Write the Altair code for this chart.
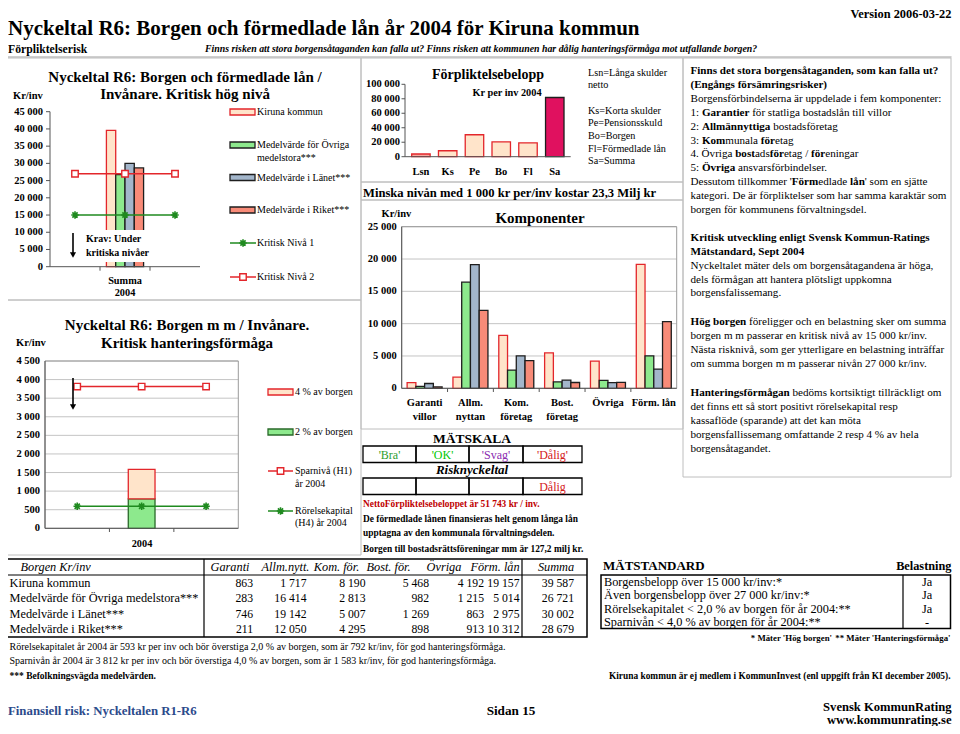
import altair as alt
import pandas as pd

SERIF = "Liberation Serif"

# ===================== DATA =====================
SERIES = ["Kiruna kommun", "Medelvärde för Övriga medelstora***",
          "Medelvärde i Länet***", "Medelvärde i Riket***"]
COMP_CATS = ["Garanti villor", "Allm. nyttan", "Kom. företag", "Bost. företag", "Övriga", "Förm. lån"]
COMP_LABEL_1 = ["Garanti", "Allm.", "Kom.", "Bost.", "Övriga", "Förm. lån"]
COMP_LABEL_2 = ["villor", "nyttan", "företag", "företag", "", ""]
KIRUNA = [863, 1717, 8190, 5468, 4192, 19157]
OVRIGA = [283, 16414, 2813, 982, 1215, 5014]
LANET = [746, 19142, 5007, 1269, 863, 2975]
RIKET = [211, 12050, 4295, 898, 913, 10312]
SUMMA = [39587, 26721, 30002, 28679]
KRITISK_NIVA_1 = 15000
KRITISK_NIVA_2 = 27000
C1_SLOTS = ["pre", "Summa 2004", "post"]
C1_TICKS = [0, 5000, 10000, 15000, 20000, 25000, 30000, 35000, 40000, 45000]

FORPL_CATS = ["Lsn", "Ks", "Pe", "Bo", "Fl", "Sa"]
FORPL_VALUES = [3700, 8200, 30300, 20430, 19157, 81787]
FORPL_TICKS = [0, 20000, 40000, 60000, 80000, 100000]

KOMP_TICKS = [0, 5000, 10000, 15000, 20000, 25000]

C4_SLOTS = ["pre", "2004", "post"]
HANT_2PCT = 792
HANT_4PCT = 1583
SPARNIVA = 3812
RORELSEKAPITAL = 593
HANT_TICKS = [0, 500, 1000, 1500, 2000, 2500, 3000, 3500, 4000, 4500]

TABLE_COLS = ["Garanti", "Allm.nytt.", "Kom. för.", "Bost. för.", "Övriga", "Förm. lån"]
MATSTANDARD = ["Borgensbelopp över 15 000 kr/inv:*", "Även borgensbelopp över 27 000 kr/inv:*",
               "Rörelsekapitalet < 2,0 % av borgen för år 2004:**", "Sparnivån < 4,0 % av borgen för år 2004:**"]
BELASTNING = ["Ja", "Ja", "Ja", "-"]

# ===================== STYLE =====================
RED = "#E3262B"
PEACH = "#FFE4CA"
GFILL = "#8DE98D"
BLUEG = "#A3B6CB"
SALMON = "#F88B78"
DARK = "#1E1E1E"
LGREEN = "#1F8A1F"
MAGENTA = "#E0115F"
LSNFILL = "#F6A9A0"
FRAME = "#BEBEBE"
AXIS = "#555555"
GRID = "#C4C4C4"
FILL = dict(zip(SERIES, [PEACH, GFILL, BLUEG, SALMON]))
STROKE = dict(zip(SERIES, [RED, DARK, DARK, DARK]))
ASTERISK = "M-1,0L1,0M0,-1L0,1M-0.7,-0.7L0.7,0.7M-0.7,0.7L0.7,-0.7"
RIGHT_EDGE = 951.5   # right-most page pixel available to the drawing


def P(v):
    return v - 8


def fmt(v):
    return f"{v:,}".replace(",", " ")


# Times / Liberation Serif advance widths (per 1000 em) for mixed-weight lines
_TR = dict(zip("abcdefghijklmnopqrstuvwxyz",
               [444, 500, 444, 500, 444, 333, 500, 500, 278, 278, 500, 278, 778, 500, 500, 500, 500, 333, 389, 278, 500, 500, 722, 500, 500, 444]))
_TR.update(dict(zip("ABCDEFGHIJKLMNOPQRSTUVWXYZ",
                    [722, 667, 667, 722, 611, 556, 722, 722, 333, 389, 722, 611, 889, 722, 722, 556, 722, 667, 556, 611, 722, 722, 944, 722, 722, 611])))
_TR.update({" ": 250, ".": 250, ",": 250, ":": 278, "'": 180, "/": 278, "-": 333, "(": 333, ")": 333, "%": 833})
_TB = dict(zip("abcdefghijklmnopqrstuvwxyz",
               [500, 556, 444, 556, 444, 333, 500, 556, 278, 333, 556, 278, 833, 556, 500, 556, 556, 444, 389, 333, 556, 500, 722, 500, 500, 444]))
_TB.update(dict(zip("ABCDEFGHIJKLMNOPQRSTUVWXYZ",
                    [722, 667, 722, 722, 667, 611, 778, 778, 389, 500, 778, 667, 944, 722, 778, 611, 778, 722, 556, 667, 722, 722, 1000, 722, 722, 667])))
_TB.update({" ": 250, ".": 250, ",": 250, ":": 333, "'": 278, "/": 278, "-": 333, "(": 333, ")": 333, "%": 1000})
_ACC = {"å": "a", "ä": "a", "ö": "o", "Å": "A", "Ä": "A", "Ö": "O", "é": "e"}


def tw(s, size, bold):
    tab = _TB if bold else _TR
    return sum(tab.get(_ACC.get(c, c), 500) for c in s) * size / 1000.0


def texts(rows, size, weight="normal", style="normal", align="left", color="black"):
    df = pd.DataFrame(rows, columns=["x", "y", "t"])
    df["x"] = df["x"] - 8
    df["y"] = df["y"] - 8
    return alt.Chart(df).mark_text(align=align, baseline="middle", font=SERIF, fontSize=size,
                                   fontWeight=weight, fontStyle=style, color=color).encode(
        x=alt.X("x:Q", scale=None, axis=None), y=alt.Y("y:Q", scale=None, axis=None), text="t:N")


def frames(rects, color, width=1.0, fill="white", fill_opacity=0.0):
    df = pd.DataFrame(rects, columns=["x", "y", "x2", "y2"]) - 8
    return alt.Chart(df).mark_rect(fill=fill, fillOpacity=fill_opacity, stroke=color, strokeWidth=width).encode(
        x=alt.X("x:Q", scale=None, axis=None), x2="x2:Q",
        y=alt.Y("y:Q", scale=None, axis=None), y2="y2:Q")


def segs(lines, x0, y0, dy, size):
    """Lay out lines made of (text, bold) segments; returns (normal_rows, bold_rows)."""
    normal, bold = [], []
    for i, line in enumerate(lines):
        x = x0
        y = y0 + i * dy
        for s, b in line:
            stripped = s.lstrip(" ")
            lead = tw(s[: len(s) - len(stripped)], size, b)
            if stripped:
                (bold if b else normal).append((x + lead, y, stripped))
            x += tw(s, size, b)
    return normal, bold


layers = []

# ===================== PANEL FRAMES =====================
layers.append(frames([
    (5, 58, 361, 300), (5, 300, 361, 555),
    (361, 58, 683, 182), (361, 182, 683, 200), (361, 200, 683, 429),
    (683, 58, RIGHT_EDGE - 0.5, 477),
], FRAME))
layers.append(frames([(0, 57, RIGHT_EDGE, 57)], FRAME))

# ===================== CHART 1: Borgen och förmedlade lån =====================
c1x = alt.Scale(domain=C1_SLOTS, range=[P(50), P(200)], paddingInner=0, paddingOuter=0)
c1y = alt.Scale(domain=[0, 45000], range=[P(266.7), P(111.7)], nice=False)
df1 = pd.DataFrame({"slot": "Summa 2004", "series": SERIES, "value": SUMMA})
df1["fill"] = df1["series"].map(FILL)
df1["stroke"] = df1["series"].map(STROKE)
dfn1 = pd.DataFrame({"slot": C1_SLOTS, "value": [KRITISK_NIVA_1] * 3})
dfn2 = pd.DataFrame({"slot": C1_SLOTS, "value": [KRITISK_NIVA_2] * 3})
dft1 = pd.DataFrame({"v": C1_TICKS, "lab": [fmt(v) for v in C1_TICKS]})
X1 = alt.X("slot:N", scale=c1x, axis=None)

c1 = alt.layer(
    alt.Chart(df1).mark_bar(strokeWidth=1.3).encode(
        x=X1, xOffset=alt.XOffset("series:N", scale=alt.Scale(domain=SERIES, paddingInner=0, paddingOuter=0.69)),
        y=alt.Y("value:Q", scale=c1y, axis=None),
        fill=alt.Fill("fill:N", scale=None), stroke=alt.Stroke("stroke:N", scale=None)),
    alt.Chart(dft1).mark_text(align="right", baseline="middle", font=SERIF, fontSize=10.5, fontWeight="bold").encode(
        x=alt.value(P(43)), y=alt.Y("v:Q", scale=c1y, axis=None), text="lab:N"),
    alt.Chart(dft1).mark_rule(color=AXIS).encode(
        x=alt.value(P(46)), x2=alt.value(P(50)), y=alt.Y("v:Q", scale=c1y, axis=None)),
    alt.Chart(pd.DataFrame({"a": [0], "b": [45000]})).mark_rule(color=AXIS).encode(
        x=alt.value(P(50)), y=alt.Y("a:Q", scale=c1y, axis=None), y2="b:Q"),
    alt.Chart(pd.DataFrame({"a": [0]})).mark_rule(color=AXIS).encode(
        x=alt.value(P(50)), x2=alt.value(P(200)), y=alt.Y("a:Q", scale=c1y, axis=None)),
    alt.Chart(pd.DataFrame({"slot": C1_SLOTS[1:]})).mark_rule(color=AXIS).encode(
        x=alt.X("slot:N", scale=c1x, axis=None, bandPosition=0), y=alt.value(P(266.7)), y2=alt.value(P(270.7))),
    alt.Chart(dfn1).mark_line(color=LGREEN, strokeWidth=1.5).encode(x=X1, y=alt.Y("value:Q", scale=c1y, axis=None)),
    alt.Chart(dfn1).mark_point(shape=ASTERISK, filled=False, color=LGREEN, size=55, strokeWidth=1.6, opacity=1).encode(
        x=X1, y=alt.Y("value:Q", scale=c1y, axis=None)),
    alt.Chart(dfn2).mark_line(color=RED, strokeWidth=1.5).encode(x=X1, y=alt.Y("value:Q", scale=c1y, axis=None)),
    alt.Chart(dfn2).mark_point(shape="square", filled=True, fill="white", stroke=RED, strokeWidth=1.4, size=42, opacity=1).encode(
        x=X1, y=alt.Y("value:Q", scale=c1y, axis=None)),
)
layers.append(c1)

# ===================== CHART 2: Förpliktelsebelopp =====================
c2x = alt.Scale(domain=FORPL_CATS, range=[P(405), P(570.7)], paddingInner=0.31, paddingOuter=0.25)
c2y = alt.Scale(domain=[0, 100000], range=[P(156.7), P(84.3)], nice=False)
df2 = pd.DataFrame({"cat": FORPL_CATS, "value": FORPL_VALUES})
df2["fill"] = [LSNFILL, PEACH, PEACH, PEACH, PEACH, MAGENTA]
df2["stroke"] = [RED, RED, RED, RED, RED, DARK]
dft2 = pd.DataFrame({"v": FORPL_TICKS, "lab": [fmt(v) for v in FORPL_TICKS]})
c2 = alt.layer(
    alt.Chart(df2).mark_bar(strokeWidth=1.3).encode(
        x=alt.X("cat:N", scale=c2x, axis=None), y=alt.Y("value:Q", scale=c2y, axis=None),
        fill=alt.Fill("fill:N", scale=None), stroke=alt.Stroke("stroke:N", scale=None)),
    alt.Chart(df2).mark_text(baseline="middle", font=SERIF, fontSize=10.5, fontWeight="bold").encode(
        x=alt.X("cat:N", scale=c2x, axis=None), y=alt.value(P(172)), text="cat:N"),
    alt.Chart(dft2).mark_text(align="right", baseline="middle", font=SERIF, fontSize=10.5, fontWeight="bold").encode(
        x=alt.value(P(400)), y=alt.Y("v:Q", scale=c2y, axis=None), text="lab:N"),
    alt.Chart(dft2).mark_rule(color=AXIS).encode(
        x=alt.value(P(401.5)), x2=alt.value(P(405)), y=alt.Y("v:Q", scale=c2y, axis=None)),
    alt.Chart(pd.DataFrame({"a": [0], "b": [100000]})).mark_rule(color=AXIS).encode(
        x=alt.value(P(405)), y=alt.Y("a:Q", scale=c2y, axis=None), y2="b:Q"),
    alt.Chart(pd.DataFrame({"a": [0]})).mark_rule(color=AXIS).encode(
        x=alt.value(P(405)), x2=alt.value(P(570.7)), y=alt.Y("a:Q", scale=c2y, axis=None)),
)
layers.append(c2)

# ===================== CHART 3: Komponenter =====================
c3x = alt.Scale(domain=COMP_CATS, range=[P(401.7), P(676.7)], paddingInner=0, paddingOuter=0)
c3y = alt.Scale(domain=[0, 25000], range=[P(388.3), P(226.7)], nice=False)
rows3 = []
for s, vals in zip(SERIES, [KIRUNA, OVRIGA, LANET, RIKET]):
    for c, v in zip(COMP_CATS, vals):
        rows3.append({"cat": c, "series": s, "value": v})
df3 = pd.DataFrame(rows3)
df3["fill"] = df3["series"].map(FILL)
df3["stroke"] = df3["series"].map(STROKE)
dft3 = pd.DataFrame({"v": KOMP_TICKS, "lab": [fmt(v) for v in KOMP_TICKS]})
dfl3 = pd.DataFrame({"cat": COMP_CATS, "l1": COMP_LABEL_1, "l2": COMP_LABEL_2})
X3 = alt.X("cat:N", scale=c3x, axis=None)
c3 = alt.layer(
    alt.Chart(dft3[dft3.v > 0]).mark_rule(color=GRID).encode(
        x=alt.value(P(401.7)), x2=alt.value(P(676.7)), y=alt.Y("v:Q", scale=c3y, axis=None)),
    alt.Chart(pd.DataFrame({"a": [0], "b": [25000]})).mark_rect(fill="white", fillOpacity=0, stroke="#9A9A9A").encode(
        x=alt.value(P(401.7)), x2=alt.value(P(676.7)), y=alt.Y("a:Q", scale=c3y, axis=None), y2="b:Q"),
    alt.Chart(df3).mark_bar(strokeWidth=1.3).encode(
        x=X3, xOffset=alt.XOffset("series:N", scale=alt.Scale(domain=SERIES, paddingInner=0, paddingOuter=0.62)),
        y=alt.Y("value:Q", scale=c3y, axis=None),
        fill=alt.Fill("fill:N", scale=None), stroke=alt.Stroke("stroke:N", scale=None)),
    alt.Chart(dft3).mark_text(align="right", baseline="middle", font=SERIF, fontSize=10.5, fontWeight="bold").encode(
        x=alt.value(P(396.7)), y=alt.Y("v:Q", scale=c3y, axis=None), text="lab:N"),
    alt.Chart(pd.DataFrame({"a": [0], "b": [25000]})).mark_rule(color=AXIS).encode(
        x=alt.value(P(401.7)), y=alt.Y("a:Q", scale=c3y, axis=None), y2="b:Q"),
    alt.Chart(pd.DataFrame({"a": [0]})).mark_rule(color=AXIS).encode(
        x=alt.value(P(401.7)), x2=alt.value(P(676.7)), y=alt.Y("a:Q", scale=c3y, axis=None)),
    alt.Chart(pd.DataFrame({"cat": COMP_CATS[1:]})).mark_rule(color=AXIS).encode(
        x=alt.X("cat:N", scale=c3x, axis=None, bandPosition=0), y=alt.value(P(388.3)), y2=alt.value(P(392))),
    alt.Chart(dfl3).mark_text(baseline="middle", font=SERIF, fontSize=10.5, fontWeight="bold").encode(
        x=X3, y=alt.value(P(402.5)), text="l1:N"),
    alt.Chart(dfl3).mark_text(baseline="middle", font=SERIF, fontSize=10.5, fontWeight="bold").encode(
        x=X3, y=alt.value(P(416.5)), text="l2:N"),
)
layers.append(c3)

# ===================== CHART 4: Hanteringsförmåga =====================
c4x = alt.Scale(domain=C4_SLOTS, range=[P(45), P(238.3)], paddingInner=0.585, paddingOuter=0.2925)
c4y = alt.Scale(domain=[0, 4500], range=[P(528.3), P(361)], nice=False)
df4 = pd.DataFrame({"slot": ["2004", "2004"], "part": ["2 % av borgen", "4 % av borgen"],
                    "lo": [0, HANT_2PCT], "hi": [HANT_2PCT, HANT_4PCT],
                    "fill": [GFILL, PEACH], "stroke": ["#2A6A2A", RED]})
dfs4 = pd.DataFrame({"slot": C4_SLOTS, "value": [SPARNIVA] * 3})
dfr4 = pd.DataFrame({"slot": C4_SLOTS, "value": [RORELSEKAPITAL] * 3})
dft4 = pd.DataFrame({"v": HANT_TICKS, "lab": [fmt(v) for v in HANT_TICKS]})
X4 = alt.X("slot:N", scale=c4x, axis=None)
c4 = alt.layer(
    alt.Chart(dft4[dft4.v > 0]).mark_rule(color=GRID).encode(
        x=alt.value(P(45)), x2=alt.value(P(238.3)), y=alt.Y("v:Q", scale=c4y, axis=None)),
    alt.Chart(pd.DataFrame({"a": [0], "b": [4500]})).mark_rect(fill="white", fillOpacity=0, stroke="#9A9A9A").encode(
        x=alt.value(P(45)), x2=alt.value(P(238.3)), y=alt.Y("a:Q", scale=c4y, axis=None), y2="b:Q"),
    alt.Chart(df4).mark_bar(strokeWidth=1.3).encode(
        x=X4, y=alt.Y("lo:Q", scale=c4y, axis=None), y2="hi:Q",
        fill=alt.Fill("fill:N", scale=None), stroke=alt.Stroke("stroke:N", scale=None)),
    alt.Chart(dft4).mark_text(align="right", baseline="middle", font=SERIF, fontSize=10.5, fontWeight="bold").encode(
        x=alt.value(P(40)), y=alt.Y("v:Q", scale=c4y, axis=None), text="lab:N"),
    alt.Chart(pd.DataFrame({"a": [0], "b": [4500]})).mark_rule(color=AXIS).encode(
        x=alt.value(P(45)), y=alt.Y("a:Q", scale=c4y, axis=None), y2="b:Q"),
    alt.Chart(pd.DataFrame({"a": [0]})).mark_rule(color=AXIS).encode(
        x=alt.value(P(45)), x2=alt.value(P(238.3)), y=alt.Y("a:Q", scale=c4y, axis=None)),
    alt.Chart(pd.DataFrame({"slot": C4_SLOTS[1:]})).mark_rule(color=AXIS).encode(
        x=alt.X("slot:N", scale=alt.Scale(domain=C4_SLOTS, range=[P(45), P(238.3)], paddingInner=0, paddingOuter=0),
                axis=None, bandPosition=0), y=alt.value(P(528.3)), y2=alt.value(P(532))),
    alt.Chart(dfs4).mark_line(color=RED, strokeWidth=1.5).encode(x=X4, y=alt.Y("value:Q", scale=c4y, axis=None)),
    alt.Chart(dfs4).mark_point(shape="square", filled=True, fill="white", stroke=RED, strokeWidth=1.4, size=42, opacity=1).encode(
        x=X4, y=alt.Y("value:Q", scale=c4y, axis=None)),
    alt.Chart(dfr4).mark_line(color=LGREEN, strokeWidth=1.5).encode(x=X4, y=alt.Y("value:Q", scale=c4y, axis=None)),
    alt.Chart(dfr4).mark_point(shape=ASTERISK, filled=False, color=LGREEN, size=55, strokeWidth=1.6, opacity=1).encode(
        x=X4, y=alt.Y("value:Q", scale=c4y, axis=None)),
).resolve_scale(x="independent")
layers.append(c4)

# ===================== LEGENDS (manual) =====================
sw = pd.DataFrame([
    (230, 109, 255, 115, PEACH, RED), (230, 142, 255, 148, GFILL, DARK),
    (230, 174.5, 255, 180.5, BLUEG, DARK), (230, 207, 255, 213, SALMON, DARK),
    (268, 389, 293, 395, PEACH, RED), (268, 429, 293, 435, GFILL, "#2A6A2A"),
], columns=["x", "y", "x2", "y2", "f", "s"])
for c in ["x", "y", "x2", "y2"]:
    sw[c] = sw[c] - 8
layers.append(alt.Chart(sw).mark_rect(strokeWidth=1.3).encode(
    x=alt.X("x:Q", scale=None, axis=None), x2="x2:Q", y=alt.Y("y:Q", scale=None, axis=None), y2="y2:Q",
    fill=alt.Fill("f:N", scale=None), stroke=alt.Stroke("s:N", scale=None)))
lg = pd.DataFrame([(230, 256, 243, LGREEN), (230, 256, 277, RED), (268, 293, 471, RED), (268, 293, 511, LGREEN)],
                  columns=["x", "x2", "y", "c"])
lg[["x", "x2", "y"]] = lg[["x", "x2", "y"]] - 8
layers.append(alt.Chart(lg).mark_rule(strokeWidth=1.5).encode(
    x=alt.X("x:Q", scale=None, axis=None), x2="x2:Q", y=alt.Y("y:Q", scale=None, axis=None),
    color=alt.Color("c:N", scale=None)))
mk_ast = pd.DataFrame({"x": [243 - 8, 280.5 - 8], "y": [243 - 8, 511 - 8]})
mk_sq = pd.DataFrame({"x": [243 - 8, 280.5 - 8], "y": [277 - 8, 471 - 8]})
layers.append(alt.Chart(mk_ast).mark_point(shape=ASTERISK, filled=False, color=LGREEN, size=55, strokeWidth=1.6, opacity=1).encode(
    x=alt.X("x:Q", scale=None, axis=None), y=alt.Y("y:Q", scale=None, axis=None)))
layers.append(alt.Chart(mk_sq).mark_point(shape="square", filled=True, fill="white", stroke=RED, strokeWidth=1.4, size=42, opacity=1).encode(
    x=alt.X("x:Q", scale=None, axis=None), y=alt.Y("y:Q", scale=None, axis=None)))

layers.append(texts([
    (257, 112, "Kiruna kommun"), (257, 145, "Medelvärde för Övriga"), (257, 158, "medelstora***"),
    (257, 177.5, "Medelvärde i Länet***"), (257, 210, "Medelvärde i Riket***"),
    (257, 243, "Kritisk Nivå 1"), (257, 277, "Kritisk Nivå 2"),
    (295, 392, "4 % av borgen"), (295, 432, "2 % av borgen"),
    (295, 471, "Sparnivå (H1)"), (295, 483.5, "år 2004"),
    (295, 511, "Rörelsekapital"), (295, 522.5, "(H4) år 2004"),
], 10))
layers.append(texts([
    (588, 72.5, "Lsn=Långa skulder"), (588, 85, "netto"), (588, 110.7, "Ks=Korta skulder"),
    (588, 123.3, "Pe=Pensionsskuld"), (588, 136, "Bo=Borgen"), (588, 148.7, "Fl=Förmedlade lån"),
    (588, 161.3, "Sa=Summa"),
], 10.2))

# ===================== ANNOTATION BOX + ARROWS =====================
layers.append(frames([(81, 230, 152, 262)], "white", 0, fill="white", fill_opacity=1.0))
arr = pd.DataFrame({"x": [73 - 8, 73 - 8], "y": [233 - 8, 378 - 8], "y2": [254 - 8, 406 - 8]})
layers.append(alt.Chart(arr).mark_rule(color="black", strokeWidth=1.6).encode(
    x=alt.X("x:Q", scale=None, axis=None), y=alt.Y("y:Q", scale=None, axis=None), y2="y2:Q"))
arrh = pd.DataFrame({"x": [73 - 8, 73 - 8], "y": [255 - 8, 407 - 8]})
layers.append(alt.Chart(arrh).mark_point(shape="triangle-down", filled=True, color="black", size=38, opacity=1).encode(
    x=alt.X("x:Q", scale=None, axis=None), y=alt.Y("y:Q", scale=None, axis=None)))

# ===================== TITLES / BOLD TEXT =====================
layers.append(texts([(8, 29, "Nyckeltal R6: Borgen och förmedlade lån år 2004 för Kiruna kommun")], 21, "bold"))
layers.append(texts([(RIGHT_EDGE, 14, "Version 2006-03-22")], 12.4, "bold", align="right"))
layers.append(texts([(8, 49, "Förpliktelserisk")], 11.7, "bold"))
layers.append(texts([(205, 49, "Finns risken att stora borgensåtaganden kan falla ut? Finns risken att kommunen har dålig hanteringsförmåga mot utfallande borgen?")],
                    9.85, "bold", "italic"))
layers.append(texts([
    (185, 76.5, "Nyckeltal R6: Borgen och förmedlade lån /"), (185, 93.5, "Invånare. Kritisk hög nivå"),
    (187, 325, "Nyckeltal R6: Borgen m m / Invånare."), (187, 343.3, "Kritisk hanteringsförmåga"),
], 15, "bold", align="center"))
layers.append(texts([(488, 75, "Förpliktelsebelopp")], 14, "bold", align="center"))
layers.append(texts([(540, 218, "Komponenter")], 15, "bold", align="center"))
layers.append(texts([(472, 438.5, "MÄTSKALA")], 13.5, "bold", align="center"))
layers.append(texts([(472, 470, "Risknyckeltal")], 13, "bold", "italic", align="center"))
layers.append(texts([
    (13, 96, "Kr/inv"), (16, 343.3, "Kr/inv"), (381.5, 214, "Kr/inv"),
], 10.5, "bold"))
layers.append(texts([
    (125, 281, "Summa"), (125, 293, "2004"), (142, 543.5, "2004"), (507, 93.3, "Kr per inv 2004"),
], 10.3, "bold", align="center"))
layers.append(texts([(86, 238.5, "Krav: Under"), (86, 253, "kritiska nivåer")], 10, "bold"))
layers.append(texts([(363, 192.5, "Minska nivån med 1 000 kr per/inv kostar 23,3 Milj kr")], 12.6, "bold"))

# MÄTSKALA cells
cells = []
for (y0, y1) in [(446, 462.5), (478, 494.5)]:
    for (a, b) in [(363, 416), (416, 469), (469, 523), (523, 582)]:
        cells.append((a, y0, b, y1))
layers.append(frames(cells, "black", 1.3))
layers.append(texts([(389.5, 454.5, "'Bra'")], 12, color="#2E9E2E", align="center"))
layers.append(texts([(442.5, 454.5, "'OK'")], 12, color="#00C800", align="center"))
layers.append(texts([(496, 454.5, "'Svag'")], 12, color="#8B2BB0", align="center"))
layers.append(texts([(552.5, 454.5, "'Dålig'"), (552.5, 486.5, "Dålig")], 12, color="#D42020", align="center"))
layers.append(texts([(363, 504, "NettoFörpliktelsebeloppet är 51 743 kr / inv.")], 9.4, "bold", color="#C00000"))
layers.append(texts([
    (363, 518.5, "De förmedlade lånen finansieras helt genom långa lån"),
    (363, 532.5, "upptagna av den kommunala förvaltningsdelen."),
    (363, 549, "Borgen till bostadsrättsföreningar mm är 127,2 milj kr."),
], 9.4, "bold"))

# ===================== RIGHT TEXT PANEL =====================
RIGHT_TOP = [
    [("Finns det stora borgensåtaganden, som kan falla ut?", True)],
    [("(Engångs försämringsrisker)", True)],
    [("Borgensförbindelserna är uppdelade i fem komponenter:", False)],
    [("1: ", False), ("Garantier", True), (" för statliga bostadslån till villor", False)],
    [("2: ", False), ("Allmännyttiga", True), (" bostadsföretag", False)],
    [("3: ", False), ("Kom", True), ("munala ", False), ("för", True), ("etag", False)],
    [("4. Övriga ", False), ("bost", True), ("ads", False), ("för", True), ("etag / ", False), ("för", True), ("eningar", False)],
    [("5: ", False), ("Övriga", True), (" ansvarsförbindelser.", False)],
    [("Dessutom tillkommer '", False), ("Förm", True), ("edlade ", False), ("lån", True), ("' som en sjätte", False)],
    [("kategori. De är förpliktelser som har samma karaktär som", False)],
    [("borgen för kommunens förvaltningsdel.", False)],
    [],
    [("Kritisk utveckling enligt Svensk Kommun-Ratings", True)],
    [("Mätstandard, Sept 2004", True)],
    [("Nyckeltalet mäter dels om borgensåtagandena är höga,", False)],
    [("dels förmågan att hantera plötsligt uppkomna", False)],
    [("borgensfalissemang.", False)],
]
RIGHT_BOT = [
    [("Hög borgen", True), (" föreligger och en belastning sker om summa", False)],
    [("borgen m m passerar en kritisk nivå av 15 000 kr/inv.", False)],
    [("Nästa risknivå, som ger ytterligare en belastning inträffar", False)],
    [("om summa borgen m m passerar nivån 27 000 kr/inv.", False)],
    [],
    [("Hanteringsförmågan", True), (" bedöms kortsiktigt tillräckligt om", False)],
    [("det finns ett så stort positivt rörelsekapital resp", False)],
    [("kassaflöde (sparande) att det kan möta", False)],
    [("borgensfallissemang omfattande 2 resp 4 % av hela", False)],
    [("borgensåtagandet.", False)],
]
n1, b1 = segs(RIGHT_TOP, 690.5, 71, 13.9, 11.1)
n2, b2 = segs(RIGHT_BOT, 690.5, 322, 14.1, 11.1)
layers.append(texts(n1 + n2, 11.1))
layers.append(texts(b1 + b2, 11.1, "bold"))

# ===================== BOTTOM LEFT TABLE =====================
layers.append(frames([(6.5, 559, 587, 637)], "black", 1.5))
layers.append(frames([(6.5, 575, 587, 575), (204, 559, 204, 637), (522, 559, 522, 637)], "black", 1.2))
TBL_Y = [582.8, 598.3, 613.8, 629.3]
VAL_RIGHT = [253, 306.5, 365.5, 429, 484, 519.5]
HEAD_CENTER = [230, 285.5, 336.5, 388.5, 444, 495]
hdr = [(20.5, 567.3, "Borgen Kr/inv")]
layers.append(texts(hdr, 12.3, style="italic"))
layers.append(texts([(c, 567.3, t) for c, t in zip(HEAD_CENTER, TABLE_COLS)] + [(556, 567.3, "Summa")],
                    12.3, style="italic", align="center"))
layers.append(texts([(9.5, y, s) for y, s in zip(TBL_Y, SERIES)], 12.3))
val_rows = []
for y, vals, tot in zip(TBL_Y, [KIRUNA, OVRIGA, LANET, RIKET], SUMMA):
    for xr, v in zip(VAL_RIGHT, vals):
        val_rows.append((xr, y, fmt(v)))
    val_rows.append((574, y, fmt(tot)))
layers.append(texts(val_rows, 11.7, align="right"))
layers.append(texts([
    (9.5, 646.5, "Rörelsekapitalet år 2004 är 593 kr per inv och bör överstiga 2,0 % av borgen, som är 792 kr/inv, för god hanteringsförmåga."),
    (9.5, 661, "Sparnivån år 2004 är 3 812 kr per inv och bör överstiga 4,0 % av borgen, som är 1 583 kr/inv, för god hanteringsförmåga."),
], 10))
layers.append(texts([(9.5, 676, "*** Befolkningsvägda medelvärden.")], 9.5, "bold"))

# ===================== MÄTSTANDARD TABLE =====================
layers.append(texts([(603, 566, "MÄTSTANDARD")], 13, "bold"))
layers.append(texts([(RIGHT_EDGE, 566, "Belastning")], 12.3, "bold", align="right"))
layers.append(frames([(601, 575, 950.5, 628.5)], "black", 1.5))
layers.append(frames([(903, 575, 903, 628.5)], "black", 1.2))
MS_Y = [582, 595.3, 608.6, 621.9]
layers.append(texts([(604, y, s) for y, s in zip(MS_Y, MATSTANDARD)], 12.3))
layers.append(texts([(927, y, s) for y, s in zip(MS_Y, BELASTNING)], 12.3, align="center"))
layers.append(texts([(832, 637.5, "* Mäter 'Hög borgen'"), (950.5, 637.5, "** Mäter 'Hanteringsförmåga'")],
                    8.8, "bold", align="right"))
layers.append(texts([(950.5, 675.5, "Kiruna kommun är ej medlem i KommunInvest (enl uppgift från KI december 2005).")],
                    9.4, "bold", align="right"))

# ===================== FOOTER =====================
layers.append(texts([(8, 711, "Finansiell risk: Nyckeltalen R1-R6")], 12.8, "bold", color="#2B4A8B"))
layers.append(texts([(511, 711, "Sidan 15")], 13.2, "bold", align="center"))
layers.append(texts([(RIGHT_EDGE, 706.5, "Svensk KommunRating"), (RIGHT_EDGE, 720, "www.kommunrating.se")],
                    12.6, "bold", align="right"))

chart = alt.layer(*layers).resolve_scale(
    x="independent", y="independent", xOffset="independent"
).properties(
    width=944, height=718, autosize=alt.AutoSizeParams(type="none"), padding=0, background="white"
).configure_view(stroke=None)

chart.save("out.html", embed_options={"renderer": "svg", "actions": False})
